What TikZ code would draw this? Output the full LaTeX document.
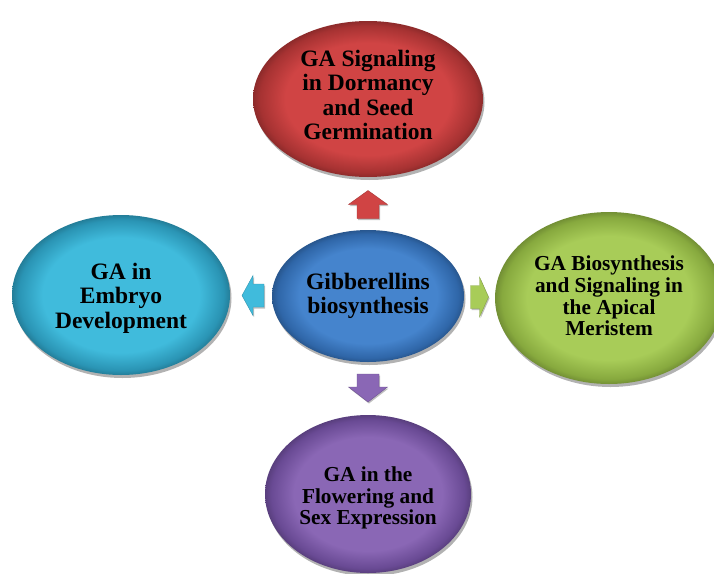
\documentclass[tikz,border=0pt]{standalone}
\usepackage{fontspec}
\setmainfont{Liberation Serif}
\usetikzlibrary{shapes.geometric,shadows,calc}
\definecolor{redin}{HTML}{D04444}
\definecolor{redout}{HTML}{A63232}
\definecolor{bluein}{HTML}{4584CD}
\definecolor{blueout}{HTML}{2F66A8}
\definecolor{cyanin}{HTML}{40BBDC}
\definecolor{cyanout}{HTML}{2A94B4}
\definecolor{greenin}{HTML}{A8CC58}
\definecolor{greenout}{HTML}{87A93E}
\definecolor{purplein}{HTML}{8A67B5}
\definecolor{purpleout}{HTML}{694A94}
\newcommand{\mkbevel}[3]{\pgfdeclareradialshading{#1}{\pgfpoint{0bp}{0bp}}{color(0bp)=(#2); color(18bp)=(#2); color(23.5bp)=(#3); color(25bp)=(#3!85!black); color(50bp)=(#3!85!black)}}
\mkbevel{redbev}{redin}{redout}
\mkbevel{bluebev}{bluein}{blueout}
\mkbevel{cyanbev}{cyanin}{cyanout}
\mkbevel{greenbev}{greenin}{greenout}
\mkbevel{purplebev}{purplein}{purpleout}
\begin{document}
\begin{tikzpicture}[x=1pt,y=-1pt,
  bub/.style={ellipse, inner sep=0pt,
    drop shadow={shadow xshift=1.5pt, shadow yshift=-3pt, opacity=0.3, fill=black}},
  bigtxt/.style={align=center, text=black, inner sep=0pt, font=\bfseries\fontsize{23.5}{24.5}\selectfont},
  smalltxt/.style={align=center, text=black, inner sep=0pt, font=\bfseries\fontsize{21.3}{21.7}\selectfont},
  barrow/.style={draw=#1!80!black, line width=0.4pt, fill=#1, drop shadow={shadow xshift=1pt, shadow yshift=-1.5pt, opacity=0.25, fill=black}}]
\useasboundingbox (0,0) rectangle (714,573);
\fill[white] (0,0) rectangle (714,573);

\node[bub, shading=bluebev, minimum width=192pt, minimum height=132pt] (c) at (368,296) {};
\node[bub, shading=redbev, minimum width=230pt, minimum height=156pt] (t) at (368,99) {};
\node[bub, shading=cyanbev, minimum width=218pt, minimum height=160pt] (l) at (121,295) {};
\node[bub, shading=greenbev, minimum width=228pt, minimum height=172pt] (r) at (609,298) {};
\node[bub, shading=purplebev, minimum width=206pt, minimum height=158pt] (b) at (368,494) {};

\node[bigtxt] (ct) at ($(c)+(0,0)$) {Gibberellins\\biosynthesis};
\node[bigtxt] (tt) at ($(t)+(0,-4)$) {GA Signaling\\in Dormancy\\and Seed\\Germination};
\node[bigtxt] (lt) at ($(l)+(0,3)$) {GA in\\Embryo\\Development};
\node[smalltxt] (rt) at ($(r)+(0,-2)$) {GA Biosynthesis\\and Signaling in\\the Apical\\Meristem};
\node[smalltxt] (bt) at ($(b)+(0,4)$) {GA in the\\Flowering and\\Sex Expression};

\coordinate (mt) at ($(c.north)!0.5!(t.south)$);
\coordinate (mb) at ($(c.south)!0.5!(b.north)$);
\coordinate (ml) at ($(c.west)!0.5!(l.east)$);
\coordinate (mr) at ($(c.east)!0.5!(r.west)$);

% up arrow (red)
\path[barrow=redin] ($(mt)+(-11,15)$) -- ($(mt)+(-11,1)$) -- ($(mt)+(-19.5,1)$) -- ($(mt)+(0,-13)$)
  -- ($(mt)+(19.5,1)$) -- ($(mt)+(11,1)$) -- ($(mt)+(11,15)$) -- cycle;
% down arrow (purple)
\path[barrow=purplein] ($(mb)+(-11,-14.5)$) -- ($(mb)+(-11,-1.5)$) -- ($(mb)+(-19.5,-1.5)$) -- ($(mb)+(0,13.5)$)
  -- ($(mb)+(19.5,-1.5)$) -- ($(mb)+(11,-1.5)$) -- ($(mb)+(11,-14.5)$) -- cycle;
% left arrow (cyan)
\path[barrow=cyanin] ($(ml)+(13,-11.5)$) -- ($(ml)+(2,-11.5)$) -- ($(ml)+(2,-20)$) -- ($(ml)+(-9,0)$)
  -- ($(ml)+(2,20)$) -- ($(ml)+(2,11.5)$) -- ($(ml)+(13,11.5)$) -- cycle;
% right arrow (green)
\path[barrow=greenin] ($(mr)+(-9,-11.5)$) -- ($(mr)+(0,-11.5)$) -- ($(mr)+(0,-20)$) -- ($(mr)+(9,0)$)
  -- ($(mr)+(0,20)$) -- ($(mr)+(0,11.5)$) -- ($(mr)+(-9,11.5)$) -- cycle;
\end{tikzpicture}
\end{document}
